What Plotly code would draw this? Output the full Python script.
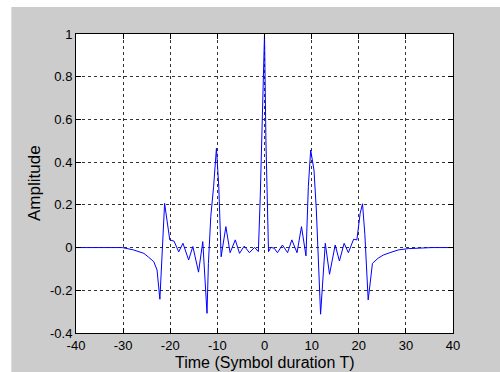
import plotly.graph_objects as go

# Time axis (symbol durations T) and amplitude
t = [-40, -30.2, -27.8, -25.6, -24.6, -23.5, -22.8, -22.2, -21.2, -20.1, -19.2,
     -18.2, -17.3, -16.1, -15.2, -14.0, -13.1, -12.2, -11.9, -11.4, -10.8, -10.2,
     -9.7, -9.4, -9.2, -8.2, -7.3, -6.2, -5.3, -4.3, -3.2, -2.1, -1.3, -0.9,
     -0.55, -0.2, 0, 0.3, 0.64, 0.85, 1.35, 2.05, 2.75, 3.8, 4.9, 5.8, 6.9,
     7.85, 8.8, 9.3, 9.8, 10.0, 10.5, 11.0, 11.6, 11.9, 12.9, 13.8, 15.0, 15.9,
     16.9, 17.8, 18.9, 19.6, 20.3, 20.8, 21.3, 22.0, 22.5, 22.9, 24.1, 25.2,
     26.6, 28.4, 30.5, 33, 35.5, 40]
amplitude = [0, 0, -0.011, -0.027, -0.045, -0.066, -0.105, -0.242, 0.207, 0.036, 0.03,
             -0.02, 0.02, -0.058, 0.005, -0.115, 0.028, -0.308, -0.074, 0.145, 0.285, 0.465,
             0.285, 0.098, -0.043, 0.098, -0.024, 0.036, -0.027, 0.007, -0.024, 0.001, -0.019, 0.238,
             0.55, 0.86, 1.0, 0.504, 0.082, -0.019, 0.001, -0.003, -0.024, 0.012, -0.024, 0.036, -0.024,
             0.098, -0.039, 0.285, 0.457, 0.426, 0.363, 0.176, -0.167, -0.312, 0.02, -0.125, 0.012, -0.063,
             0.02, -0.024, 0.039, 0.036, 0.16, 0.205, 0.06, -0.245, -0.152, -0.074, -0.05, -0.035,
             -0.024, -0.011, -0.005, -0.002, 0, 0]

x_ticks = [-40, -30, -20, -10, 0, 10, 20, 30, 40]
x_tick_labels = ["-40", "-30", "-20", "-10", "0", "10", "20", "30", "40"]
y_ticks = [-0.4, -0.2, 0, 0.2, 0.4, 0.6, 0.8, 1]
y_tick_labels = ["-0.4", "-0.2", "0", "0.2", "0.4", "0.6", "0.8", "1"]

x_title = "Time (Symbol duration T)"
y_title = "Amplitude"

FONT = "Liberation Sans, Arial, sans-serif"
GRAY = "#cccccc"

fig = go.Figure()
fig.add_trace(go.Scatter(x=t, y=amplitude, mode="lines",
                         line=dict(color="#0000ff", width=1), showlegend=False,
                         hoverinfo="skip"))

axis_common = dict(
    showline=True, linecolor="black", linewidth=1, mirror="ticks",
    ticks="inside", ticklen=5, tickcolor="black", tickwidth=1,
    showgrid=True, gridcolor="#333333", gridwidth=1, griddash="dot",
    zeroline=False, tickfont=dict(family=FONT, size=13, color="black"),
)

fig.update_xaxes(range=[-40, 40], tickmode="array", tickvals=x_ticks,
                 ticktext=x_tick_labels, **axis_common)
fig.update_yaxes(range=[-0.4, 1], tickmode="array", tickvals=y_ticks,
                 ticktext=y_tick_labels, **axis_common)

fig.update_layout(
    width=500, height=372,
    margin=dict(l=76, r=47, t=34, b=39, pad=0),
    paper_bgcolor=GRAY, plot_bgcolor="white",
    hovermode=False,
    shapes=[
        # white border strips outside the gray figure area (top, left)
        dict(type="rect", xref="paper", yref="paper", x0=-0.25, x1=1.2,
             y0=1.0903, y1=1.2, fillcolor="white", line=dict(width=0), layer="below"),
        dict(type="rect", xref="paper", yref="paper", x0=-0.25, x1=-0.1715,
             y0=-0.2, y1=1.2, fillcolor="white", line=dict(width=0), layer="below"),
    ],
    annotations=[
        dict(text=x_title, xref="paper", yref="paper", x=0.5, y=0, yshift=-29.5,
             showarrow=False, xanchor="center", yanchor="middle",
             font=dict(family=FONT, size=16, color="black")),
        dict(text=y_title, xref="paper", yref="paper", x=0, xshift=-41.5, y=0.5,
             showarrow=False, xanchor="center", yanchor="middle", textangle=-90,
             font=dict(family=FONT, size=17, color="black")),
    ],
)

fig.write_html("out.html", config={"displayModeBar": False},
               post_script="document.body.style.margin='0';document.body.style.overflow='hidden';")
